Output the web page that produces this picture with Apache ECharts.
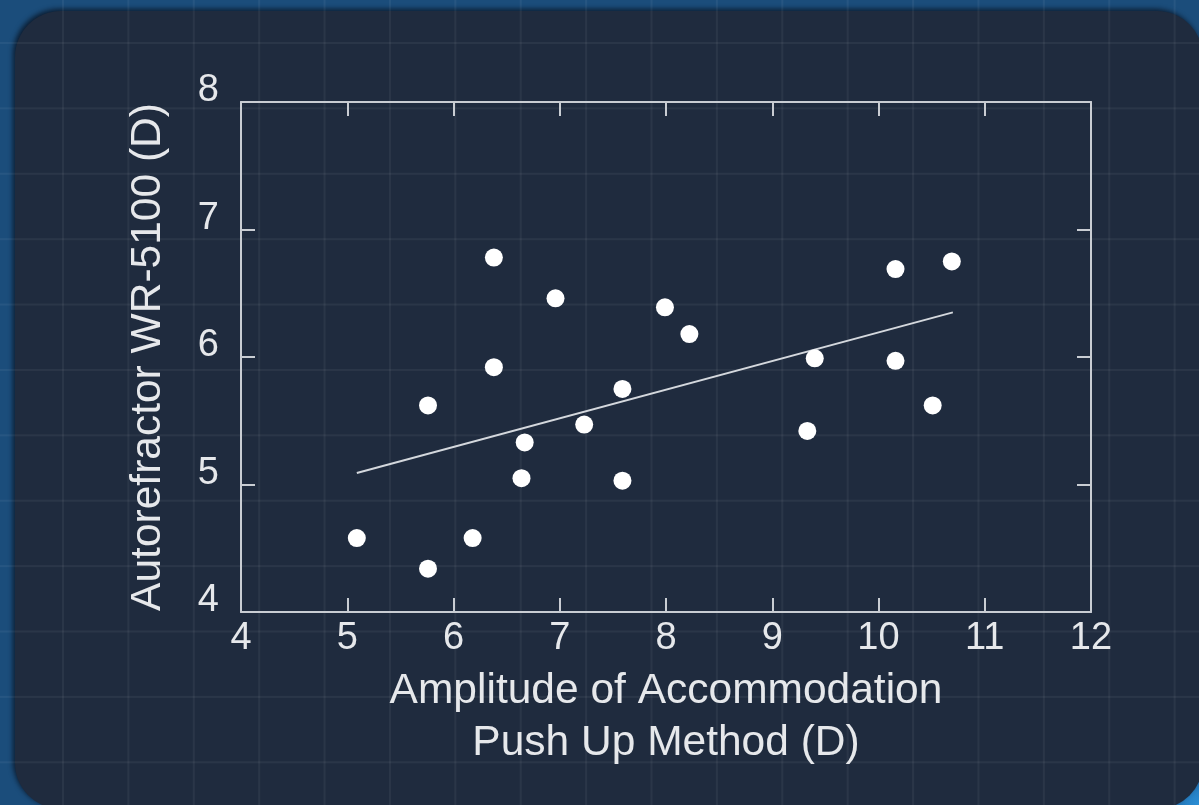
<!DOCTYPE html>
<html>
<head>
<meta charset="utf-8">
<script src="https://cdn.jsdelivr.net/npm/echarts@6/dist/echarts.min.js"></script>
<style>
  html, body { margin: 0; padding: 0; width: 1199px; height: 805px; overflow: hidden; }
  body { background: radial-gradient(circle at 1199px 805px, #2b8fd6 0px, #1f63a0 40px, #1b4d7b 120px); position: relative; }
  #panel { position: absolute; left: 15px; top: 11px; width: 1188px; height: 798px; border-radius: 46px;
           background: #1f2b3e; box-shadow: -2px -2px 5px rgba(5,10,20,0.7); }
  #gridbg { position: absolute; left: 0; top: 0; width: 1199px; height: 805px;
            background-image: linear-gradient(to right, rgba(255,255,255,0.05) 2px, transparent 2px),
                              linear-gradient(to bottom, rgba(255,255,255,0.05) 2px, transparent 2px);
            background-size: 65.4px 65.4px; background-position: 62px 42px; }
  #chart { position: absolute; left: 0; top: 0; width: 1199px; height: 805px; }
</style>
</head>
<body>
<div id="panel"></div>
<div id="gridbg"></div>
<div id="chart"></div>
<script>
// Data
const pushUpX = [5.09, 5.76, 5.76, 6.18, 6.38, 6.38, 6.67, 6.64, 6.96, 7.23, 7.59, 7.59, 7.99, 8.22, 9.33, 9.40, 10.16, 10.16, 10.51, 10.69];
const autorefY = [4.58, 4.34, 5.62, 4.58, 6.78, 5.92, 5.33, 5.05, 6.46, 5.47, 5.75, 5.03, 6.39, 6.18, 5.42, 5.99, 6.69, 5.97, 5.62, 6.75];
const trendX = [5.09, 10.70];
const trendY = [5.09, 6.35];
const xTicks = [4, 5, 6, 7, 8, 9, 10, 11, 12];
const yTicks = [4, 5, 6, 7, 8];

const axisColor = '#c9cdd3';
const textColor = '#e6e8eb';
const font = "'Liberation Sans', Arial, sans-serif";

const chart = echarts.init(document.getElementById('chart'), null, { renderer: 'canvas' });

const baseAxis = (extra) => Object.assign({
  type: 'value',
  axisLine: { show: true, lineStyle: { color: axisColor, width: 2 } },
  axisTick: { show: true, inside: true, length: 14, lineStyle: { color: axisColor, width: 2 } },
  splitLine: { show: false },
}, extra);

chart.setOption({
  backgroundColor: 'transparent',
  animation: false,
  grid: { left: 241, top: 102, right: 108, bottom: 193, containLabel: false },
  xAxis: [
    baseAxis({
      position: 'bottom',
      min: xTicks[0], max: xTicks[xTicks.length - 1], interval: 1,
      axisLabel: { color: textColor, fontSize: 38, fontFamily: font, margin: 8 },
      name: 'Amplitude of Accommodation\nPush Up Method (D)',
      nameLocation: 'middle', nameGap: 53,
      nameTextStyle: { color: textColor, fontSize: 42.5, lineHeight: 52, fontFamily: font }
    }),
    baseAxis({
      position: 'top',
      min: xTicks[0], max: xTicks[xTicks.length - 1], interval: 1,
      axisLabel: { show: false }
    })
  ],
  yAxis: [
    baseAxis({
      position: 'left',
      min: yTicks[0], max: yTicks[yTicks.length - 1], interval: 1,
      axisLabel: { color: textColor, fontSize: 38, fontFamily: font, margin: 22, verticalAlign: 'bottom', lineHeight: 22 },
      name: 'Autorefractor WR-5100 (D)',
      nameLocation: 'middle', nameGap: 69,
      nameTextStyle: { color: textColor, fontSize: 42.5, lineHeight: 48, fontFamily: font }
    }),
    baseAxis({
      position: 'right',
      min: yTicks[0], max: yTicks[yTicks.length - 1], interval: 1,
      axisLabel: { show: false }
    })
  ],
  series: [
    {
      type: 'line',
      data: trendX.map((x, i) => [x, trendY[i]]),
      showSymbol: false,
      symbol: 'none',
      lineStyle: { color: '#d4d8dd', width: 2 },
      z: 2
    },
    {
      type: 'scatter',
      data: pushUpX.map((x, i) => [x, autorefY[i]]),
      symbol: 'circle',
      symbolSize: 18,
      itemStyle: { color: '#ffffff', opacity: 1 },
      z: 3
    }
  ]
});
</script>
</body>
</html>
